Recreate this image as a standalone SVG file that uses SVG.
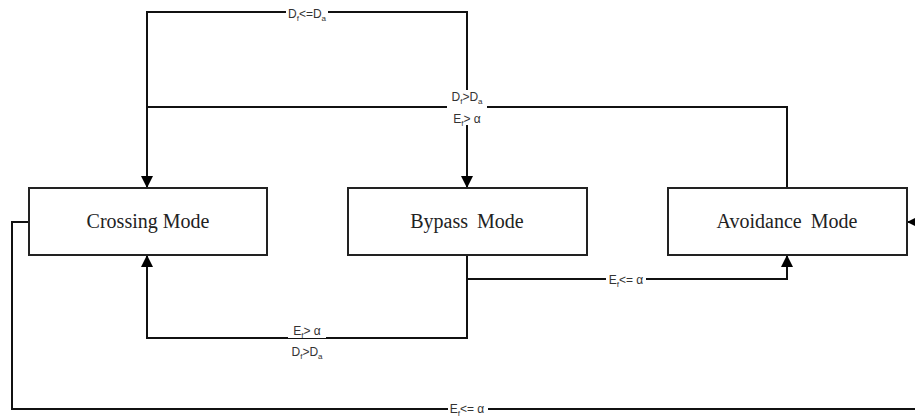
<svg xmlns="http://www.w3.org/2000/svg" width="915" height="419" viewBox="0 0 915 419">
<defs>
<marker id="arr" viewBox="0 0 12 12" refX="12" refY="6" markerWidth="12" markerHeight="12" markerUnits="userSpaceOnUse" orient="auto">
<path d="M0,0 L12,6 L0,12 z" fill="#000"/>
</marker>
</defs>
<style>
.box{fill:#fff;stroke:#222;stroke-width:2}
.bt{font-family:"Liberation Serif","Times New Roman",serif;font-size:20px;fill:#222;text-anchor:middle}
.ln{fill:none;stroke:#111;stroke-width:2}
.lb{font-family:"Liberation Sans",Arial,sans-serif;font-size:12px;fill:#333;text-anchor:middle}
.sub{font-size:8px}
.bg{fill:#fff}
</style>
<rect width="915" height="419" fill="#fff"/>
<g id="connectors">
<path class="ln" d="M147,188 V12 H467 V188" marker-end="url(#arr)"/>
<path class="ln" d="M147,12 V188" marker-end="url(#arr)"/>
<path class="ln" d="M787,188 V107 H147"/>
<path class="ln" d="M467,255 V338 H147 V255" marker-end="url(#arr)"/>
<path class="ln" d="M467,279 H787 V255" marker-end="url(#arr)"/>
<path class="ln" d="M29,222 H12 V409 H930 V222 H907" marker-end="url(#arr)"/>
<rect class="bg" x="286" y="5" width="42" height="14"/>
<text class="lb" x="307" y="18">D<tspan class="sub" dy="3">f</tspan><tspan dy="-3">&lt;=D</tspan><tspan class="sub" dy="3">a</tspan></text>
<rect class="bg" x="447" y="90" width="40" height="35"/>
<text class="lb" x="467" y="101">D<tspan class="sub" dy="3">f</tspan><tspan dy="-3">&gt;D</tspan><tspan class="sub" dy="3">a</tspan></text>
<text class="lb" x="467" y="123">E<tspan class="sub" dy="3">f</tspan><tspan dy="-3">&gt; α</tspan></text>
<rect class="bg" x="288" y="324" width="38" height="14"/>
<text class="lb" x="307" y="335">E<tspan class="sub" dy="3">f</tspan><tspan dy="-3">&gt; α</tspan></text>
<text class="lb" x="307" y="356">D<tspan class="sub" dy="3">f</tspan><tspan dy="-3">&gt;D</tspan><tspan class="sub" dy="3">a</tspan></text>
<rect class="bg" x="606" y="272" width="40" height="14"/>
<text class="lb" x="626" y="284">E<tspan class="sub" dy="3">f</tspan><tspan dy="-3">&lt;= α</tspan></text>
<rect class="bg" x="448" y="402" width="40" height="14"/>
<text class="lb" x="467" y="413">E<tspan class="sub" dy="3">f</tspan><tspan dy="-3">&lt;= α</tspan></text>
</g>
<g id="crossing">
<rect class="box" x="29" y="188" width="238" height="67"/>
<text class="bt" x="148" y="228">Crossing Mode</text>
</g>
<g id="bypass">
<rect class="box" x="348" y="188" width="239" height="67"/>
<text class="bt" x="467" y="228" word-spacing="4">Bypass Mode</text>
</g>
<g id="avoidance">
<rect class="box" x="668" y="188" width="239" height="67"/>
<text class="bt" x="787" y="228" word-spacing="4">Avoidance Mode</text>
</g>
</svg>
